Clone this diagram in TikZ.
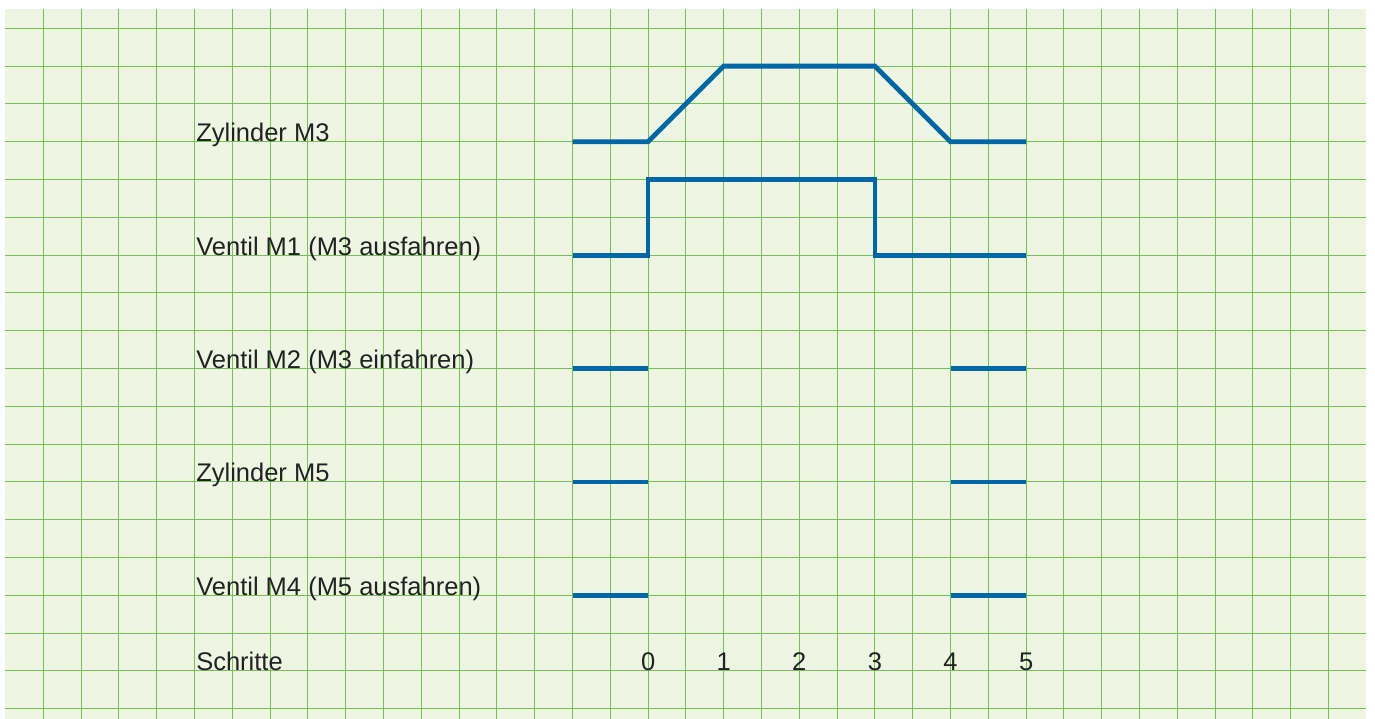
\documentclass[tikz,border=0pt]{standalone}
\usepackage{fontspec}
\setmainfont{Liberation Sans}
\usepackage{tikz}
\usetikzlibrary{positioning,calc}
\definecolor{paper}{HTML}{EFF5E3}
\definecolor{gridgreen}{HTML}{72C354}
\definecolor{traceblue}{HTML}{0067A7}
\definecolor{labelgray}{HTML}{222222}

\begin{document}
\begin{tikzpicture}[
    x=1cm, y=1cm,
    lbl/.style={anchor=base west, inner sep=0pt, text=labelgray,
      font=\fontsize{19.2}{21}\selectfont},
    stepnum/.style={anchor=base, inner sep=0pt, text=labelgray,
      font=\fontsize{19.2}{21}\selectfont},
    trace/.style={draw=traceblue, line width=3.6pt, line cap=butt, line join=miter}
  ]
  \useasboundingbox (-1.1455,0.749) rectangle (35.23,-18.27);
  \fill[paper] (-1,0.5) rectangle (35,-18.27);
  % grid
  \foreach \k in {0,...,34}
    \draw[gridgreen, line width=0.85pt] (\k,0.5) -- (\k,-18.27);
  \foreach \k in {0,...,18}
    \draw[gridgreen, line width=0.85pt] (-1,-\k) -- (35,-\k);
  % labels
  \node[lbl] (zm3) at (4.04,-3) {Zylinder M3};
  \node[lbl] (vm1) at (4.04,-6) {Ventil M1 (M3 ausfahren)};
  \node[lbl] (vm2) at (4.04,-9) {Ventil M2 (M3 einfahren)};
  \node[lbl] (zm5) at (4.04,-12) {Zylinder M5};
  \node[lbl] (vm4) at (4.04,-15) {Ventil M4 (M5 ausfahren)};
  \node[lbl] (schritte) at (4.04,-17) {Schritte};
  % step numbers
  \foreach \s in {0,...,5}
    \node[stepnum] (s\s) at ({16+2*\s},-17) {\s};
  % traces
  \draw[trace] (14,-3) -- (16,-3) -- (18,-1) -- (22,-1) -- (24,-3) -- (26,-3);
  \draw[trace] (14,-6) -- (16,-6) -- (16,-4) -- (22,-4) -- (22,-6) -- (26,-6);
  \draw[trace] (14,-9) -- (16,-9);
  \draw[trace] (24,-9) -- (26,-9);
  \draw[trace] (14,-12) -- (16,-12);
  \draw[trace] (24,-12) -- (26,-12);
  \draw[trace] (14,-15) -- (16,-15);
  \draw[trace] (24,-15) -- (26,-15);
\end{tikzpicture}
\end{document}
